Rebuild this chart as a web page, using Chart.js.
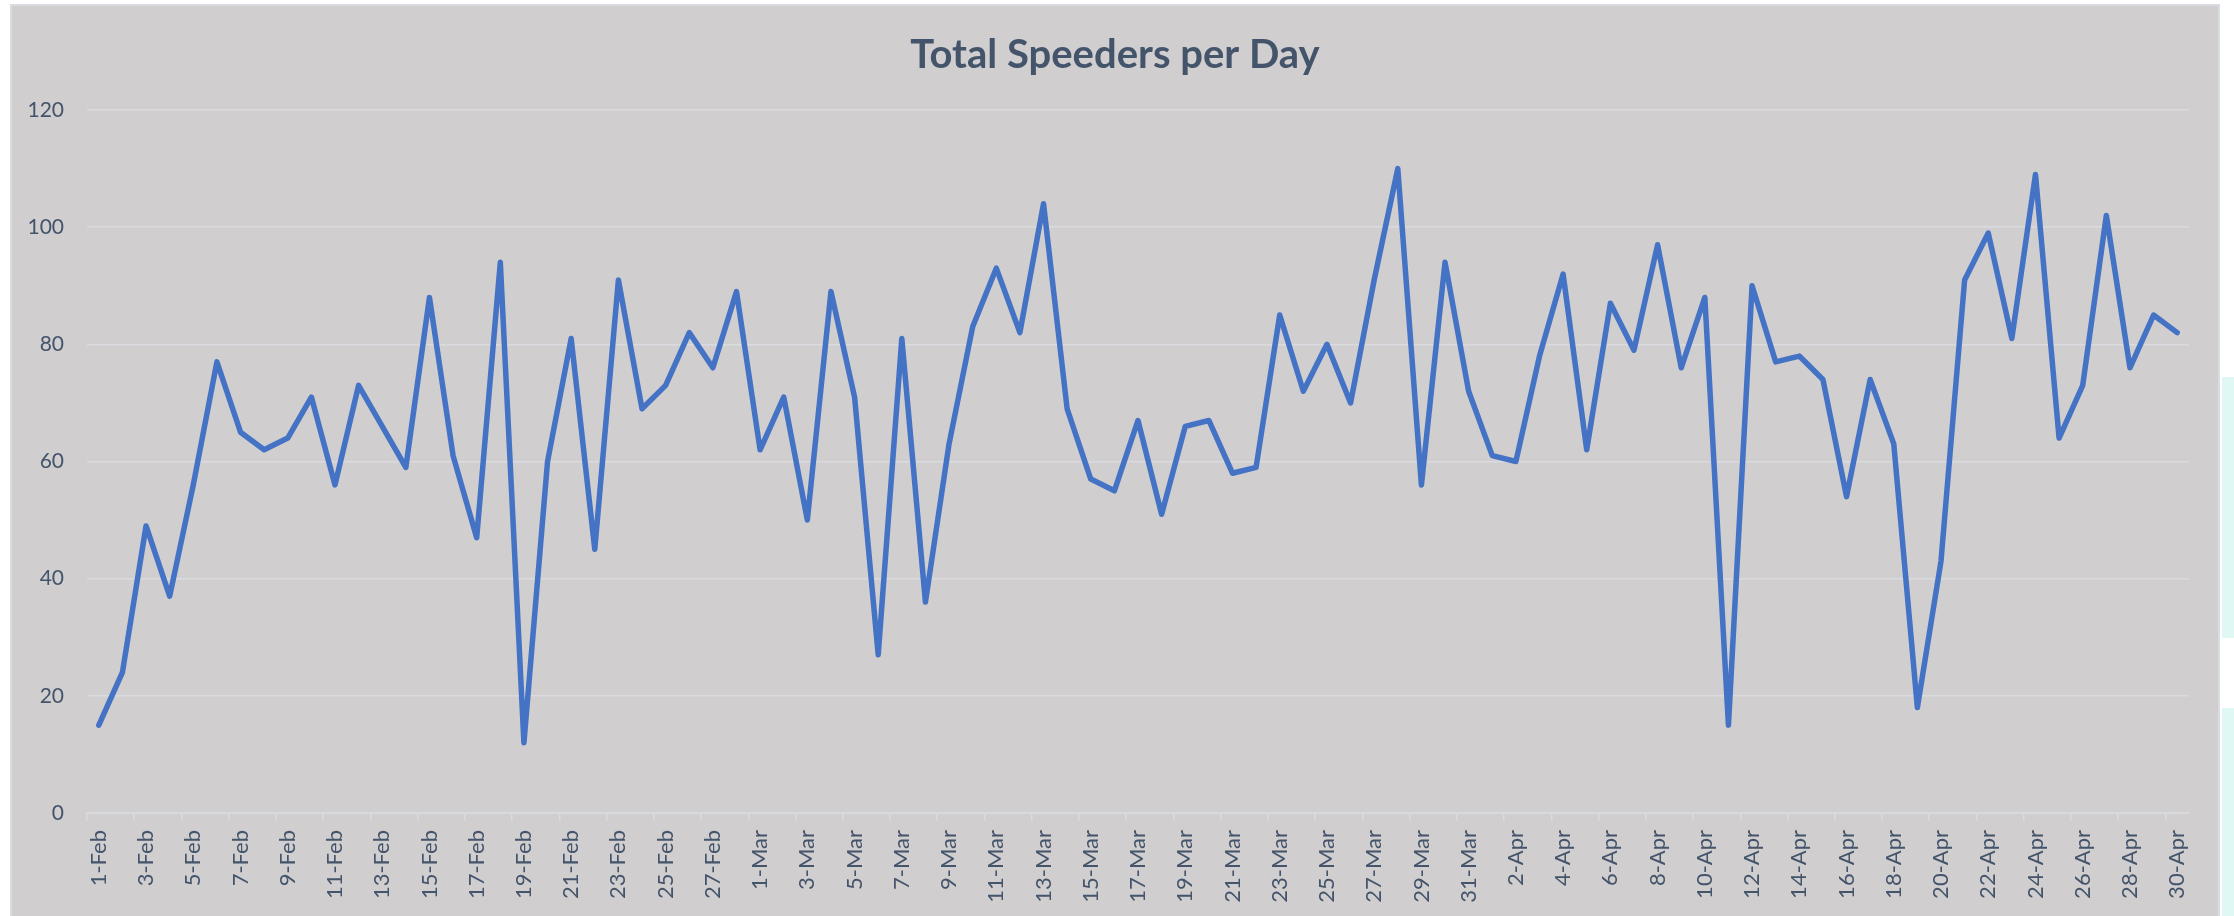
<!DOCTYPE html>
<html>
<head>
<meta charset="utf-8">
<script src="https://cdn.jsdelivr.net/npm/chart.js@4"></script>
<style>
  html, body { margin: 0; padding: 0; background: #ffffff; width: 2234px; height: 916px; overflow: hidden; }
  #panel { position: absolute; left: 10px; top: 4px; width: 2206px; height: 960px; background: #d0cecf; border: 2px solid #d9dce2; border-bottom: none; }
  .strip { position: absolute; left: 2222px; width: 12px; background: #e0f8f4; }
  #c { position: absolute; left: 0; top: 0; }
</style>
</head>
<body>
<div id="panel"></div>
<div class="strip" style="top:377px;height:261px"></div>
<div class="strip" style="top:708px;height:208px"></div>
<canvas id="c" width="2234" height="916"></canvas>
<script>
const febLabels = ['1-Feb','2-Feb','3-Feb','4-Feb','5-Feb','6-Feb','7-Feb','8-Feb','9-Feb','10-Feb','11-Feb','12-Feb','13-Feb','14-Feb','15-Feb','16-Feb','17-Feb','18-Feb','19-Feb','20-Feb','21-Feb','22-Feb','23-Feb','24-Feb','25-Feb','26-Feb','27-Feb','28-Feb'];
const marLabels = ['1-Mar','2-Mar','3-Mar','4-Mar','5-Mar','6-Mar','7-Mar','8-Mar','9-Mar','10-Mar','11-Mar','12-Mar','13-Mar','14-Mar','15-Mar','16-Mar','17-Mar','18-Mar','19-Mar','20-Mar','21-Mar','22-Mar','23-Mar','24-Mar','25-Mar','26-Mar','27-Mar','28-Mar','29-Mar','30-Mar','31-Mar'];
const aprLabels = ['1-Apr','2-Apr','3-Apr','4-Apr','5-Apr','6-Apr','7-Apr','8-Apr','9-Apr','10-Apr','11-Apr','12-Apr','13-Apr','14-Apr','15-Apr','16-Apr','17-Apr','18-Apr','19-Apr','20-Apr','21-Apr','22-Apr','23-Apr','24-Apr','25-Apr','26-Apr','27-Apr','28-Apr','29-Apr','30-Apr'];

const febValues = [15,24,49,37,56,77,65,62,64,71,56,73,66,59,88,61,47,94,12,60,81,45,91,69,73,82,76,89];
const marValues = [62,71,50,89,71,27,81,36,63,83,93,82,104,69,57,55,67,51,66,67,58,59,85,72,80,70,91,110,56,94,72];
const aprValues = [61,60,78,92,62,87,79,97,76,88,15,90,77,78,74,54,74,63,18,43,91,99,81,109,64,73,102,76,85,82];

const yTicks = [0,20,40,60,80,100,120];
const chartTitle = 'Total Speeders per Day';
const seriesName = 'Total Speeders';

const categories = febLabels.concat(marLabels, aprLabels);
const values = febValues.concat(marValues, aprValues);

const textColor = '#44546a';
const gridColor = '#dadbe0';

// centre the title over the whole chart panel rather than the padded layout box
const centerTitle = {
  id: 'centerTitle',
  afterLayout(chart) {
    if (chart.titleBlock) { chart.titleBlock.left = 0; chart.titleBlock.right = 2230; }
  }
};

new Chart(document.getElementById('c'), {
  type: 'line',
  data: {
    labels: categories,
    datasets: [{
      label: seriesName,
      data: values,
      borderColor: '#4472c4',
      backgroundColor: '#4472c4',
      borderWidth: 5.5,
      pointRadius: 0,
      pointHoverRadius: 0,
      tension: 0,
      fill: false,
      borderJoinStyle: 'round',
      borderCapStyle: 'round'
    }]
  },
  plugins: [centerTitle],
  options: {
    responsive: false,
    devicePixelRatio: 1,
    animation: false,
    layout: { padding: { left: 20, right: 45, top: 0, bottom: 0 } },
    plugins: {
      legend: { display: false },
      tooltip: { enabled: false },
      title: {
        display: true,
        text: chartTitle,
        color: textColor,
        font: { family: 'Lato', size: 40, weight: 'bold', lineHeight: 1.2 },
        padding: { top: 31, bottom: 31 }
      }
    },
    scales: {
      x: {
        type: 'category',
        offset: true,
        afterFit: (s) => { s.height = 103; },
        grid: {
          offset: true,
          drawOnChartArea: false,
          drawTicks: true,
          tickLength: 8,
          lineWidth: 1.5,
          color: gridColor,
          tickColor: (ctx) => (ctx.index !== undefined && ctx.index % 2 === 0) ? gridColor : 'rgba(0,0,0,0)'
        },
        border: { display: true, color: gridColor, width: 1.5 },
        ticks: {
          autoSkip: false,
          minRotation: 90,
          maxRotation: 90,
          padding: 9,
          color: textColor,
          font: { family: 'Lato', size: 22 },
          callback: function(val, i) { return i % 2 === 0 ? categories[i] : ''; }
        }
      },
      y: {
        min: 0,
        max: 120,
        afterFit: (s) => { s.width = 67; },
        afterBuildTicks: (s) => { s.ticks = yTicks.map(v => ({ value: v })); },
        grid: { color: gridColor, lineWidth: 1.5, drawTicks: false },
        border: { display: false },
        ticks: {
          padding: 23,
          color: textColor,
          font: { family: 'Lato', size: 21 }
        }
      }
    }
  }
});
</script>
</body>
</html>
